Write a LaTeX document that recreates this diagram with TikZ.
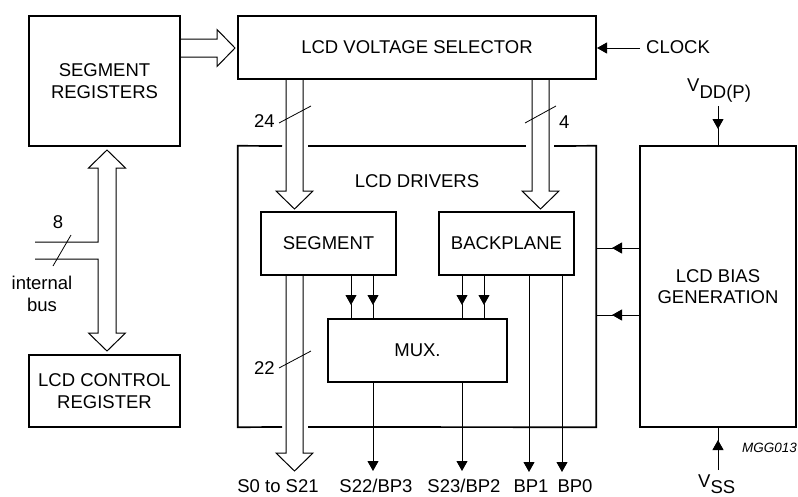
\documentclass[tikz,border=0pt]{standalone}
\usepackage{fontspec}
\setmainfont{Liberation Sans}
\usetikzlibrary{arrows.meta}
\begin{document}
\begin{tikzpicture}[x=1pt,y=-1pt,
  font=\fontsize{18.5}{21.5}\selectfont,
  box/.style={draw,line width=1.7pt,inner sep=0pt,align=center},
  lbl/.style={inner sep=0pt},
  ln/.style={line width=1pt},
  bus/.style={line width=1pt,line join=miter},
  tick/.style={line width=0.8pt},
  tip/.style={-{Triangle[length=10pt,width=11pt]}}]
\useasboundingbox (0,0) rectangle (798,496);

% boxes
\node[box,minimum width=151pt,minimum height=130pt] (segreg) at (104.5,81) {SEGMENT\\REGISTERS};
\node[box,minimum width=358pt,minimum height=63pt] (sel) at (417,47.5) {LCD VOLTAGE SELECTOR};
\node[minimum width=358pt,minimum height=281pt,inner sep=0pt] (drv) at (417,286.5) {};
\node[lbl,anchor=base] (drvlbl) at (417,187) {LCD DRIVERS};
\node[box,minimum width=135pt,minimum height=63pt] (seg) at (328.5,243.5) {SEGMENT};
\node[box,minimum width=135pt,minimum height=63pt] (bp) at (506.5,243.5) {BACKPLANE};
\node[box,minimum width=179pt,minimum height=63pt] (mux) at (417.5,350.5) {MUX.};
\node[box,minimum width=156pt,minimum height=281pt] (bias) at (718,286.5) {LCD BIAS\\GENERATION};
\node[box,minimum width=151pt,minimum height=72pt] (ctrl) at (104.5,391) {LCD CONTROL\\REGISTER};

% LCD drivers frame with gaps for the buses
\draw[line width=1.7pt] (282,146) -- (drv.north west) -- (drv.south west) -- (282,427);
\draw[line width=1.7pt] (308,427) -- (drv.south east) -- (drv.north east) -- (554,146);
\draw[line width=1.7pt] (526,146) -- (308,146);

% hollow bus arrows
\draw[bus] (180,39) -- (217,39) -- (217,29.5) -- (235,48) -- (217,66.5) -- (217,57) -- (180,57);
\draw[bus] (286,79) -- (286,191) -- (276,191) -- (294.5,209) -- (313,191) -- (303,191) -- (303,79);
\draw[bus] (532,79) -- (532,191) -- (522,191) -- (540.5,209) -- (559,191) -- (549,191) -- (549,79);
\draw[bus] (286,275) -- (286,453) -- (276,453) -- (294.5,471) -- (313,453) -- (303,453) -- (303,275);
\draw[bus] (35,242) -- (98,242) -- (98,168) -- (88.5,168) -- (107,150) -- (125.5,168) -- (116,168)
  -- (116,333) -- (125.5,333) -- (107,351) -- (88.5,333) -- (98,333) -- (98,259) -- (35,259);

% bus width ticks and labels
\draw[tick] (279,123) -- (311,106);
\node[lbl,anchor=base west] (n24) at (254,127) {24};
\draw[tick] (525,123) -- (556,106);
\node[lbl,anchor=base west] (n4) at (559,128) {4};
\draw[tick] (279,368) -- (311,351);
\node[lbl,anchor=base west] (n22) at (254,374) {22};
\draw[tick] (53,266) -- (71,235);
\node[lbl,anchor=base] (n8) at (58,228) {8};
\node[lbl,align=center] (ibus) at (42,294) {internal\\bus};

% clock
\coordinate (clk) at (640,48);
\draw[ln,tip] (clk) -- (597,48);
\node[lbl,anchor=base west] (clock) at (646,53) {CLOCK};

% segment/backplane to mux
\foreach \x in {351,373,462,484} {
  \draw[ln,tip] (\x,275) -- (\x,305);
  \draw[ln] (\x,304) -- (\x,319);
}

% bias to drivers
\foreach \y in {248,315} {
  \draw[ln,tip] (640,\y) -- (612,\y);
  \draw[ln] (613,\y) -- (596,\y);
}

% supplies
\draw[ln,tip] (718,106) -- (718,129);
\draw[ln] (718,128) -- (718,146);
\node[lbl,anchor=base west] (vdd) at (687,91) {V\raisebox{-7pt}{DD(P)}};
\draw[ln,tip] (718,470) -- (718,440);
\draw[ln] (718,441) -- (718,427);
\node[lbl,anchor=base west] (vss) at (698,487) {V\raisebox{-6pt}[\height][0pt]{SS}};

% outputs
\draw[ln,tip] (373,382) -- (373,471);
\draw[ln,tip] (462,382) -- (462,471);
\draw[ln,tip] (529,275) -- (529,472);
\draw[ln,tip] (562,275) -- (562,472);
\node[lbl,anchor=base] (o1) at (278,492) {S0 to S21};
\node[lbl,anchor=base] (o2) at (376,492) {S22/BP3};
\node[lbl,anchor=base] (o3) at (464,492) {S23/BP2};
\node[lbl,anchor=base] (o4) at (531,492) {BP1};
\node[lbl,anchor=base] (o5) at (575,492) {BP0};

\node[lbl,anchor=base west,font=\fontsize{13.5}{16}\selectfont\itshape] (code) at (742,452) {MGG013};
\end{tikzpicture}
\end{document}
